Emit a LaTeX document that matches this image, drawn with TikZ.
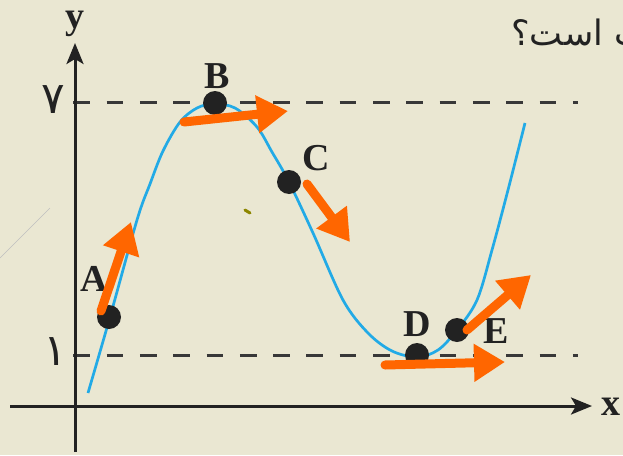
\documentclass[tikz,border=0pt]{standalone}
\usepackage{fontspec}
\setmainfont{Liberation Serif}
\newfontfamily\farsi[Script=Arabic]{DejaVu Sans}
\TeXXeTstate=1
\usepackage{tikz}
\usetikzlibrary{arrows.meta,positioning}
\definecolor{paper}{HTML}{EAE7D2}
\definecolor{curveblue}{HTML}{22AAE6}
\definecolor{pen}{HTML}{FF6600}
\definecolor{ink}{HTML}{222222}

\begin{document}
\begin{tikzpicture}[x=1pt,y=-1pt,
  lbl/.style={font=\fontsize{38}{40}\selectfont\bfseries,inner sep=0pt,text=ink},
  num/.style={font=\farsi\fontsize{44}{46}\selectfont,inner sep=0pt,text=ink},
  dot/.style={circle,fill=ink,minimum size=24pt,inner sep=0pt},
  mov/.style={pen,line width=9pt,line cap=round,-{Triangle[length=31pt,width=36pt]}},
  guide/.style={ink!90,line width=3pt,dash pattern=on 16.7pt off 16.6pt}]
  \fill[paper] (0,0) rectangle (623,455);
  \useasboundingbox (0,0) rectangle (623,455);
  % scan marks
  \draw[black!25,line width=0.6pt] (0,258)--(50,208);
  \draw[olive,line width=3pt,line cap=round] (245,210)--(250,213);
  % levels 7 and 1
  \draw[guide] (73.3,102)--(578,102);
  \draw[guide] (73.3,355)--(578,355);
  % axes
  \draw[ink,line width=3pt,-{Stealth[length=21pt,width=17pt,inset=5pt]}] (10,406)--(592,406);
  \draw[ink,line width=3pt,-{Stealth[length=21pt,width=17pt,inset=5pt]}] (75,452)--(75,43);
  \node[lbl] (xlab) at (611,407) {x};
  \node[lbl] (ylab) at (75,24) {y};
  \node[num] (seven) at (53,100) {\beginR ۷\endR};
  \node[num] (one) at (55,352) {\beginR ۱\endR};
  \node[font=\farsi\fontsize{35}{36}\selectfont,text=ink,inner sep=0pt,anchor=base west] (quest) at (511,45) {\beginR ـت است؟\endR};
  % the curve
  \draw[curveblue,line width=2.7pt] plot[smooth,tension=0.55] coordinates {(88,393) (110,317) (137,220) (150,184) (163,151) (180,122) (197,108) (214,104) (235,108) (257,127) (272,152) (289,182) (313,233) (343,300) (368,333) (392,351) (417,357) (438,350) (457,330) (477,300) (492,250) (508,190) (525,123)};
  % points on it
  \node[dot] (A) at (109,317) {};
  \node[dot] (B) at (215,103) {};
  \node[dot] (C) at (289,182) {};
  \node[dot] (D) at (417,355) {};
  \node[dot] (E) at (457,330) {};
  \node[lbl] (labA) at (94,279) {A};
  \node[lbl] (labB) at (217,76) {B};
  \node[lbl] (labC) at (316,158) {C};
  \node[lbl] (labD) at (417,324) {D};
  \node[lbl] (labE) at (496,331) {E};
  % hand drawn arrows
  \coordinate (a0) at (101,311); \coordinate (a1) at (131,222);
  \coordinate (b0) at (184,122); \coordinate (b1) at (288,111);
  \coordinate (c0) at (307,184); \coordinate (c1) at (350,242);
  \coordinate (d0) at (385,365); \coordinate (d1) at (505,362);
  \coordinate (e0) at (467,330); \coordinate (e1) at (531,275);
  \draw[mov] (a0)--(a1);
  \draw[mov] (b0)--(b1);
  \draw[mov] (c0)--(c1);
  \draw[mov] (d0)--(d1);
  \draw[mov] (e0)--(e1);
\end{tikzpicture}
\end{document}
